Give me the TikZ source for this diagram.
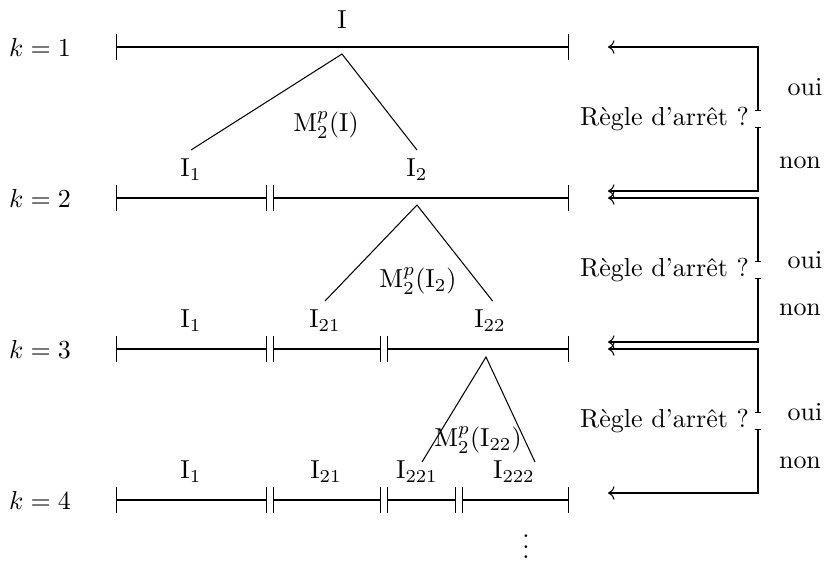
\documentclass[tikz,border=0pt]{standalone}
\usetikzlibrary{arrows.meta}
\tikzset{
  seg/.style={{Bar[width=10pt]}-{Bar[width=10pt]}},
  rulearrow/.style={{Bar[width=2.6pt]}->},
}
\begin{document}
\begin{tikzpicture}[x=0.385pt,y=-0.385pt]
  \useasboundingbox (0,0) rectangle (829,561);
  % levels
  \node (k1) at (40,47) {$k=1$};
  \node (k2) at (40,198) {$k=2$};
  \node (k3) at (40,349) {$k=3$};
  \node (k4) at (40,500) {$k=4$};
  % intervals
  \draw[seg] (116,47) -- (569,47);
  \draw[seg] (116,198) -- (267,198);
  \draw[seg] (273,198) -- (569,198);
  \draw[seg] (116,349) -- (267,349);
  \draw[seg] (273,349) -- (381,349);
  \draw[seg] (387,349) -- (569,349);
  \draw[seg] (116,500) -- (267,500);
  \draw[seg] (273,500) -- (381,500);
  \draw[seg] (387,500) -- (456,500);
  \draw[seg] (462,500) -- (569,500);
  % labels
  \node (I) at (342,20) {$\mathrm{I}$};
  \node (I1) at (191,170) {$\mathrm{I}_1$};
  \node (I2) at (417,170) {$\mathrm{I}_2$};
  \node (I1b) at (191,321) {$\mathrm{I}_1$};
  \node (I21) at (325,321) {$\mathrm{I}_{21}$};
  \node (I22) at (490,321) {$\mathrm{I}_{22}$};
  \node (I1c) at (191,472) {$\mathrm{I}_1$};
  \node (I21c) at (326,472) {$\mathrm{I}_{21}$};
  \node (I221) at (417,472) {$\mathrm{I}_{221}$};
  \node (I222) at (514,472) {$\mathrm{I}_{222}$};
  % splits
  \coordinate (t1) at (342,54);
  \coordinate (t2) at (417,205);
  \coordinate (t3) at (486,357);
  \coordinate (l3) at (422,462);
  \coordinate (r3) at (535,462);
  \draw (I1.north) -- (t1) -- (I2.north);
  \draw (I21.north) -- (t2) -- ([xshift=1pt]I22.north);
  \draw (l3) -- (t3) -- (r3);
  \node (m1) at (326,125) {$\mathrm{M}_2^p(\mathrm{I})$};
  \node (m2) at (418,281) {$\mathrm{M}_2^p(\mathrm{I}_2)$};
  \node (m3) at (478,440) {$\mathrm{M}_2^p(\mathrm{I}_{22})$};
  \node (dots) at (526,539) {$\vdots$};
  % stopping rule
  \coordinate (a1) at (608,47);
  \coordinate (n1) at (608,191);
  \coordinate (a2) at (608,198);
  \coordinate (n2) at (608,342);
  \coordinate (a3) at (608,349);
  \coordinate (n3) at (608,493);
  \node[anchor=east] (r1) at (758,119) {Règle d'arrêt ?};
  \node[anchor=east] (r2) at (758,270) {Règle d'arrêt ?};
  \node[anchor=east] (r3) at (758,421) {Règle d'arrêt ?};
  \draw[rulearrow] ([yshift=2.9pt]r1.east) |- (a1);
  \draw[rulearrow] ([yshift=-2.9pt]r1.east) |- (n1);
  \draw[rulearrow] ([yshift=2.9pt]r2.east) |- (a2);
  \draw[rulearrow] ([yshift=-2.9pt]r2.east) |- (n2);
  \draw[rulearrow] ([yshift=2.9pt]r3.east) |- (a3);
  \draw[rulearrow] ([yshift=-2.9pt]r3.east) |- (n3);
  \node (o1) at (805,87) {oui};
  \node (no1) at (800,163) {non};
  \node (o2) at (805,260) {oui};
  \node (no2) at (800,310) {non};
  \node (o3) at (805,412) {oui};
  \node (no3) at (800,463) {non};
\end{tikzpicture}
\end{document}
